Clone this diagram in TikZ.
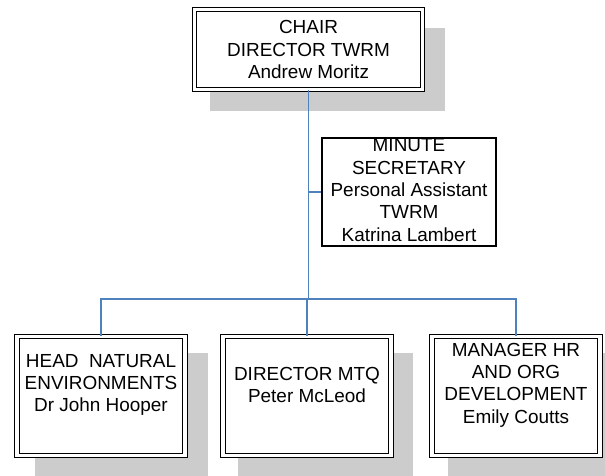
\documentclass[tikz,border=0pt]{standalone}
\usepackage{fontspec}
\setmainfont{Liberation Sans}
\definecolor{shadowgrey}{RGB}{204,204,204}
\definecolor{linkblue}{RGB}{79,129,189}
\begin{document}
\begin{tikzpicture}[x=0.75pt,y=-0.75pt,
  rolebox/.style={draw=black, line width=0.85pt, double=white, double distance=2.6pt,
    fill=white, inner sep=0pt},
  smallrole/.style={rolebox, minimum width=126pt, minimum height=89.25pt},
  secbox/.style={draw=black, line width=0.8pt, fill=white, inner sep=0pt,
    minimum width=130.5pt, minimum height=81pt},
  roletext/.style={align=center, font=\fontsize{14.2}{16.8}\selectfont, inner sep=0pt},
  link/.style={draw=linkblue, line width=1.1pt}]

% page frame
\clip (0,0) rectangle (605,475);

% drop shadows
\fill[shadowgrey] (210,28) rectangle (445,111);
\fill[shadowgrey] (35,353) rectangle (208,477);
\fill[shadowgrey] (238,353) rectangle (413,477);
\fill[shadowgrey] (448,353) rectangle (621,477);

% chair
\node[rolebox, roletext, minimum width=171pt, minimum height=60pt] (chair) at (308.5,49.5)
  {CHAIR\\DIRECTOR TWRM\\Andrew Moritz};

% minute secretary (text overflows the box and is cut at its edge)
\node[secbox] (minute) at (409,192) {};
\begin{scope}
  \clip (minute.south west) rectangle (minute.north east);
  \node[roletext] (minutetext) at (409,190)
    {MINUTE\\SECRETARY\\Personal Assistant\\TWRM\\Katrina Lambert};
\end{scope}

% direct reports
\node[smallrole] (natural) at (101,396) {};
\node[roletext] (naturaltext) at (101,385) {HEAD\ \ NATURAL\\ENVIRONMENTS\\Dr John Hooper};

\node[smallrole] (mtq) at (307,396) {};
\node[roletext] (mtqtext) at (307,385) {DIRECTOR MTQ\\Peter McLeod};

\node[smallrole] (hr) at (516,396) {};
\node[roletext] (hrtext) at (516,385) {MANAGER HR\\AND ORG\\DEVELOPMENT\\Emily Coutts};

% reporting lines
\coordinate (junction) at (308.5,299);
\draw[link] (chair.south) -- (junction);
\draw[link] (minute.west -| junction) -- (minute.west);
\draw[link] (natural.north) |- (junction) -| (hr.north);
\draw[link] (mtq.north) -- (mtq.north |- junction);
\end{tikzpicture}
\end{document}
